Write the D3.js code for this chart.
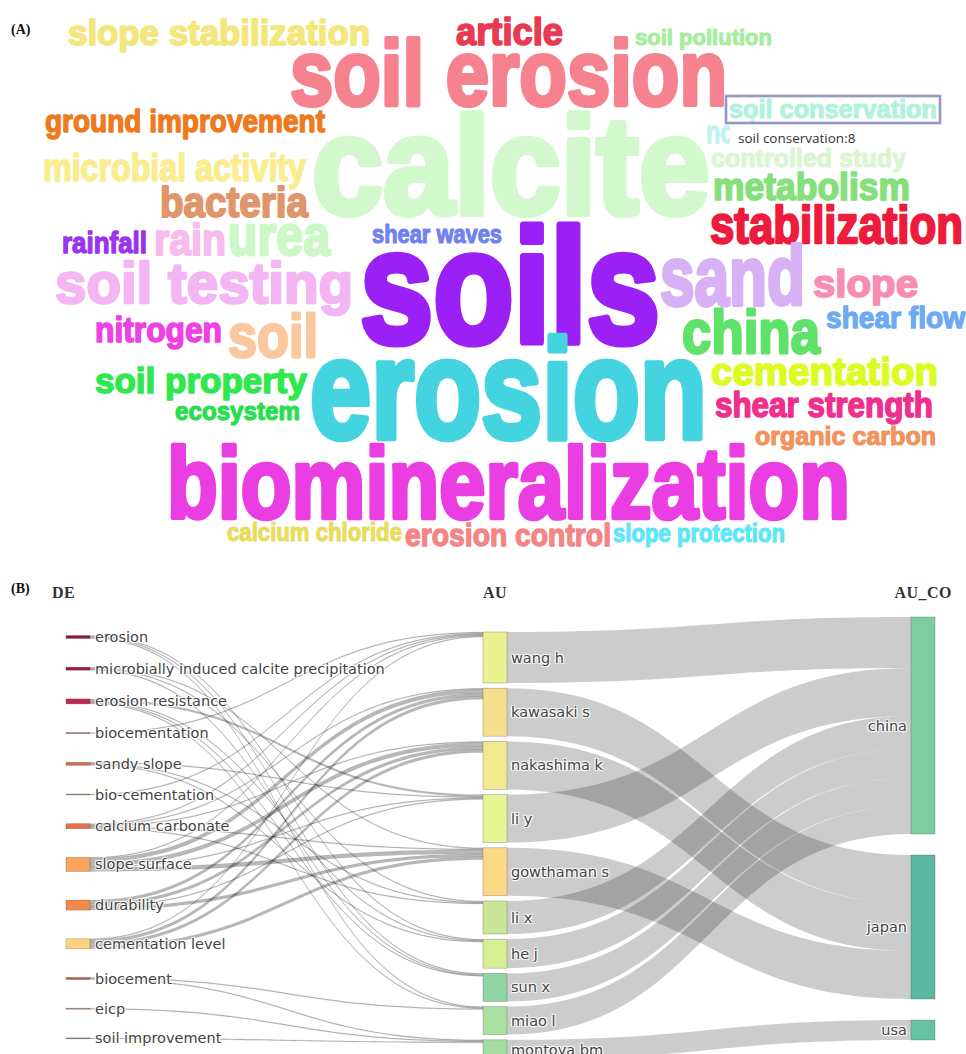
<!DOCTYPE html>
<html>
<head>
<meta charset="utf-8">
<script src="https://cdn.jsdelivr.net/npm/d3@7"></script>
<style>
  body { margin: 0; background: #fff; }
  svg { display: block; }
  .panel-tag { font-family: "Liberation Serif", "Times New Roman", serif; font-weight: bold; font-size: 14px; fill: #111; }
  .col-head { font-family: "Liberation Serif", "Times New Roman", serif; font-weight: bold; font-size: 16px; fill: #333; letter-spacing: 0.5px; }
  .node-label { font-family: "DejaVu Sans", Verdana, sans-serif; font-size: 14.5px; fill: #444;
    text-shadow: 1px 1px 1px #fff, -1px -1px 1px #fff, 1px -1px 1px #fff, -1px 1px 1px #fff; }
  .cloud-word { font-family: "Liberation Sans", Arial, sans-serif; font-weight: bold; }
  .tip { font-family: "Open Sans", "Liberation Sans", sans-serif; font-size: 13.5px; fill: #333; }
</style>
</head>
<body>
<svg id="chart" width="966" height="1054"></svg>
<script>
// ---------- (A) keyword cloud ----------
const cloudWords = [
  'slope stabilization', 'soil erosion', 'article', 'soil pollution', 'soil conservation',
  'nonhuman', 'ground improvement', 'calcite', 'controlled study', 'microbial activity',
  'metabolism', 'bacteria', 'stabilization', 'rainfall', 'rain', 'urea', 'shear waves',
  'soil testing', 'soils', 'sand', 'slope', 'nitrogen', 'soil', 'china', 'shear flow',
  'soil property', 'erosion', 'cementation', 'ecosystem', 'shear strength',
  'organic carbon', 'biomineralization', 'calcium chloride', 'erosion control', 'slope protection'
]
const cloudFreq = [
  11, 29, 12, 7, 8,
  10, 10, 43, 8, 12,
  12, 13, 16, 9, 14, 18, 8,
  18, 50, 26, 12, 11, 19, 19, 9,
  11, 44, 12, 8, 11,
  8, 31, 8, 10, 8
]
// colour of each word
const cloudColors = [
  '#f3e67a', '#f7828f', '#e83a52', '#a7ec9f', '#b2f1df',
  '#c3f3f1', '#ee7a1e', '#d3f8cd', '#d9f6d1', '#f9ed90',
  '#85e07c', '#e0956a', '#ee1c3c', '#9933ee', '#f6bcee', '#ccf7c6', '#6f82ee',
  '#f4b6f2', '#9b20f6', '#d8b1f4', '#f78cb4', '#ef40e4', '#fbc79e', '#5fe26a', '#6eaaf2',
  '#2fe84e', '#43d4e0', '#dcfb22', '#26de4e', '#ef2f8c',
  '#f1935e', '#ea3ee3', '#e8dc5e', '#f38585', '#5de6f5'
]
// where the cloud layout put each word: [left, baseline, box width]
const cloudLayout = [
  [68, 45, 302], [290, 105, 437], [456, 45, 107], [635, 45, 137], [729, 118, 208],
  [706, 143, 120], [45, 132, 280], [312, 214, 398], [711, 167, 195], [43, 181, 263],
  [713, 200, 197], [160, 217, 148], [710, 243, 253], [62, 253, 85], [154, 255, 72], [228, 255, 102], [372, 243, 130],
  [55, 303, 298], [360, 342, 300], [660, 305, 145], [813, 297, 105], [95, 342, 127], [228, 357, 90], [682, 353, 138], [826, 328, 139],
  [95, 393, 212], [310, 438, 397], [711, 385, 227], [175, 420, 125], [715, 417, 218],
  [755, 445, 181], [167, 518, 683], [227, 541, 175], [405, 546, 206], [613, 542, 172]
]
const hoverWord = 'soil conservation'

// ---------- (B) three-field plot ----------
const deTerms = [
  'erosion', 'microbially induced calcite precipitation', 'erosion resistance', 'biocementation',
  'sandy slope', 'bio-cementation', 'calcium carbonate', 'slope surface', 'durability',
  'cementation level', 'biocement', 'eicp', 'soil improvement'
]
const auNames = ['wang h', 'kawasaki s', 'nakashima k', 'li y', 'gowthaman s', 'li x', 'he j', 'sun x', 'miao l', 'montoya bm']
const coNames = ['china', 'japan', 'usa']
const auCountry = ['china', 'japan', 'japan', 'china', 'japan', 'china', 'china', 'china', 'china', 'usa']
const auCoValue = [51, 48, 48, 48, 48, 33, 29, 28, 28, 20]
// keyword -> author links: [keyword, author, value]
const deAuLinks = [
  ['erosion', 'he j', 1], ['erosion', 'sun x', 1], ['erosion', 'miao l', 1],
  ['microbially induced calcite precipitation', 'gowthaman s', 1],
  ['microbially induced calcite precipitation', 'li x', 1],
  ['microbially induced calcite precipitation', 'sun x', 1],
  ['erosion resistance', 'li y', 2], ['erosion resistance', 'he j', 1],
  ['erosion resistance', 'sun x', 1], ['erosion resistance', 'miao l', 1],
  ['biocementation', 'wang h', 1],
  ['sandy slope', 'li y', 1], ['sandy slope', 'li x', 1], ['sandy slope', 'he j', 1],
  ['bio-cementation', 'wang h', 1],
  ['calcium carbonate', 'wang h', 1], ['calcium carbonate', 'kawasaki s', 1],
  ['calcium carbonate', 'nakashima k', 1], ['calcium carbonate', 'gowthaman s', 1],
  ['calcium carbonate', 'li x', 1],
  ['slope surface', 'wang h', 1], ['slope surface', 'kawasaki s', 4], ['slope surface', 'nakashima k', 4],
  ['slope surface', 'li y', 1], ['slope surface', 'gowthaman s', 4],
  ['durability', 'kawasaki s', 3], ['durability', 'nakashima k', 3],
  ['durability', 'li y', 1], ['durability', 'gowthaman s', 3],
  ['cementation level', 'wang h', 1], ['cementation level', 'kawasaki s', 3],
  ['cementation level', 'nakashima k', 3], ['cementation level', 'gowthaman s', 3],
  ['biocement', 'miao l', 1], ['biocement', 'montoya bm', 1],
  ['eicp', 'montoya bm', 1],
  ['soil improvement', 'montoya bm', 1]
]
const deColors = ['#8e1b3d', '#9e1a42', '#c2284c', '#a05060', '#d86a4c', '#a89270', '#e4704a',
  '#fba45e', '#f28a4a', '#fdd37c', '#c8523f', '#a88270', '#958b6c']
const auColors = ['#e9f28e', '#f6de8c', '#f1e890', '#e6f695', '#fdd985', '#c9e797', '#d7ee93', '#8fd5a3', '#acdfa2', '#a5dca2']
const coColors = ['#7dcd9f', '#58b8a2', '#66c2a4']

const svg = d3.select('#chart')
svg.append('rect').attr('width', 966).attr('height', 1054).attr('fill', '#fff')

// ---------- draw the cloud ----------
const fontScale = d3.scaleLinear().domain([0, 50]).range([0, 161])
const cloudData = cloudWords.map((word, i) => ({
  word, freq: cloudFreq[i], color: cloudColors[i],
  x: cloudLayout[i][0], y: cloudLayout[i][1], w: cloudLayout[i][2]
}))

svg.append('text').attr('class', 'panel-tag').attr('x', 11).attr('y', 34).text('(A)')

const cloud = svg.append('g')
cloud.selectAll('text')
  .data(cloudData)
  .join('text')
  .attr('class', 'cloud-word')
  .attr('x', (d) => d.x)
  .attr('y', (d) => d.y)
  .attr('font-size', (d) => fontScale(d.freq))
  .attr('textLength', (d) => d.w)
  .attr('lengthAdjust', 'spacingAndGlyphs')
  .attr('fill', (d) => d.color)
  .attr('stroke', (d) => d.color)
  .attr('stroke-width', (d) => fontScale(d.freq) * 0.045)
  .attr('stroke-linejoin', 'round')
  .text((d) => d.word)

// hover box + tooltip
const hv = cloudData.find((d) => d.word === hoverWord)
const hfs = fontScale(hv.freq)
const tip = svg.append('g')
tip.append('rect')
  .attr('x', hv.x + 1).attr('y', hv.y + 6)
  .attr('width', 172).attr('height', 22)
  .attr('fill', '#fff')
tip.append('text')
  .attr('class', 'tip')
  .attr('x', hv.x + 9).attr('y', hv.y + 25)
  .text(`${hv.word}:${hv.freq}`)
tip.append('rect')
  .attr('x', hv.x - 3).attr('y', hv.y - 22)
  .attr('width', hv.w + 6).attr('height', 27)
  .attr('fill', 'none').attr('stroke', '#c4c4ec').attr('stroke-width', 4).attr('opacity', 0.6)
tip.append('rect')
  .attr('x', hv.x - 3).attr('y', hv.y - 22)
  .attr('width', hv.w + 6).attr('height', 27)
  .attr('fill', 'none').attr('stroke', '#7474aa').attr('stroke-width', 1.3)

// ---------- draw the three-field plot ----------
svg.append('text').attr('class', 'panel-tag').attr('x', 11).attr('y', 593).text('(B)')

const cols = ['DE', 'AU', 'AU_CO']
const colX = d3.scaleOrdinal().domain(cols).range([66, 483, 911])
const nodeW = 24
const px = d3.scaleLinear().domain([0, 1]).range([0, 1])
const colPack = { DE: { top: 635.5, pad: 28.7 }, AU: { top: 632, pad: 5.2 }, AU_CO: { top: 617, pad: 21 } }

const nodeBy = new Map()
const addNodes = (names, col, colors) => names.map((name, i) => {
  const n = { name, col, color: colors[i], src: [], tgt: [] }
  nodeBy.set(col + ':' + name, n)
  return n
})
const columns = {
  DE: addNodes(deTerms, 'DE', deColors),
  AU: addNodes(auNames, 'AU', auColors),
  AU_CO: addNodes(coNames, 'AU_CO', coColors)
}
const links = [
  ...deAuLinks.map(([s, t, v]) => ({ source: nodeBy.get('DE:' + s), target: nodeBy.get('AU:' + t), value: v })),
  ...auNames.map((a, i) => ({ source: nodeBy.get('AU:' + a), target: nodeBy.get('AU_CO:' + auCountry[i]), value: auCoValue[i] }))
]
links.forEach((l) => { l.source.src.push(l); l.target.tgt.push(l) })

cols.forEach((c) => {
  let y = colPack[c].top
  columns[c].forEach((n) => {
    n.value = Math.max(d3.sum(n.src, (l) => l.value), d3.sum(n.tgt, (l) => l.value))
    n.x0 = colX(c)
    n.x1 = n.x0 + nodeW
    n.y0 = y
    n.y1 = y + px(n.value)
    y = n.y1 + colPack[c].pad
  })
})
const allNodes = cols.flatMap((c) => columns[c])
allNodes.forEach((n) => {
  let y = n.y0
  n.src.sort((a, b) => a.target.y0 - b.target.y0).forEach((l) => { l.sy = y; y += px(l.value) })
  y = n.y0
  n.tgt.sort((a, b) => a.source.y0 - b.source.y0).forEach((l) => { l.ty = y; y += px(l.value) })
})

const band = (l) => {
  const x0 = l.source.x1, x1 = l.target.x0, xm = (x0 + x1) / 2, w = px(l.value)
  const p = d3.path()
  p.moveTo(x0, l.sy)
  p.bezierCurveTo(xm, l.sy, xm, l.ty, x1, l.ty)
  p.lineTo(x1, l.ty + w)
  p.bezierCurveTo(xm, l.ty + w, xm, l.sy + w, x0, l.sy + w)
  p.closePath()
  return p.toString()
}

const plotB = svg.append('g')
plotB.append('g')
  .selectAll('path')
  .data(links)
  .join('path')
  .attr('d', band)
  .attr('fill', (d) => d.source.col === 'DE' ? 'rgba(0,0,0,0.28)' : 'rgba(0,0,0,0.2)')
  .attr('stroke', (d) => d.source.col === 'DE' ? 'rgba(0,0,0,0.12)' : 'none')
  .attr('stroke-width', 0.5)

plotB.append('g')
  .selectAll('rect')
  .data(allNodes)
  .join('rect')
  .attr('x', (d) => d.x0)
  .attr('y', (d) => d.y0)
  .attr('width', nodeW)
  .attr('height', (d) => Math.max(1, d.y1 - d.y0))
  .attr('fill', (d) => d.color)
  .attr('stroke', 'rgba(68,68,68,0.45)')
  .attr('stroke-width', 0.6)

plotB.append('g')
  .selectAll('text')
  .data(allNodes)
  .join('text')
  .attr('class', 'node-label')
  .attr('x', (d) => d.col === 'AU_CO' ? d.x0 - 4 : d.x1 + (d.col === 'DE' ? 5 : 4))
  .attr('y', (d) => (d.y0 + d.y1) / 2)
  .attr('dy', '0.35em')
  .attr('text-anchor', (d) => d.col === 'AU_CO' ? 'end' : 'start')
  .text((d) => d.name)

// column headers
const heads = plotB.append('g')
heads.append('text').attr('class', 'col-head').attr('x', colX('DE') - 14).attr('y', 598).text('DE')
heads.append('text').attr('class', 'col-head').attr('x', colX('AU') + nodeW / 2).attr('y', 598)
  .attr('text-anchor', 'middle').text('AU')
heads.append('text').attr('class', 'col-head').attr('x', colX('AU_CO') + nodeW + 17).attr('y', 598)
  .attr('text-anchor', 'end').text('AU_CO')
</script>
</body>
</html>
